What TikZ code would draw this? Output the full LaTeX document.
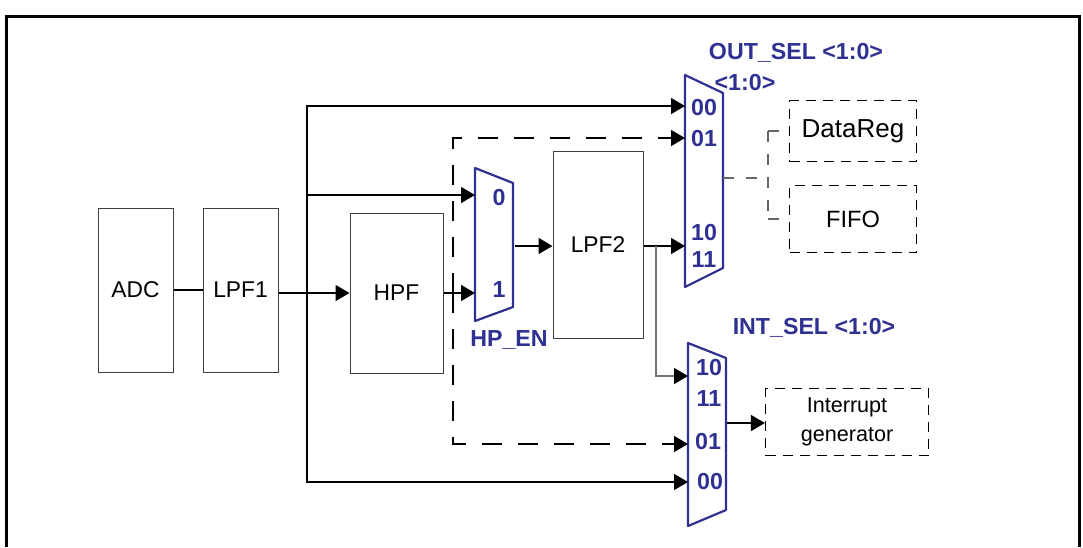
\documentclass[tikz,border=0pt]{standalone}
\usepackage{fontspec}
\setmainfont{Liberation Sans}
\usetikzlibrary{arrows.meta}
\definecolor{selblue}{RGB}{46,49,146}
\tikzset{
  blk/.style={draw=black!75, line width=0.5pt, inner sep=0pt, font=\fontsize{11.4}{13}\selectfont},
  regbox/.style={draw, dash pattern=on 5pt off 3.5pt, line width=0.6pt, inner sep=0pt},
  wire/.style={line width=0.75pt},
  sig/.style={wire, -{Triangle[length=7pt,width=8pt]}},
  bypass/.style={sig, dash pattern=on 10pt off 8pt},
  branch/.style={wire, draw=black!55, -{Triangle[length=7pt,width=8pt,color=black,fill=black]}},
  fanout/.style={line width=0.6pt, draw=black!60, dash pattern=on 5.5pt off 6pt},
  mux/.style={draw=selblue, line width=1.1pt, line join=round},
  muxlbl/.style={text=selblue, inner sep=0pt, font=\fontsize{11.6}{13}\bfseries\selectfont},
}
\begin{document}
\begin{tikzpicture}[x=0.5pt, y=-0.5pt]
  \useasboundingbox (0,0) rectangle (1083,547);
  \draw[line width=1.5pt] (6,547) -- (6,16) -- (1079,16) -- (1079,547);

  % filter chain
  \node[blk, minimum width=37.5pt, minimum height=82pt] (adc) at (135.5,290) {ADC};
  \node[blk, minimum width=37.5pt, minimum height=82pt] (lpf1) at (240.5,290) {LPF1};
  \node[blk, minimum width=46.5pt, minimum height=80pt] (hpf) at (396.5,293) {HPF};
  \node[blk, minimum width=45pt, minimum height=93.5pt] (lpf2) at (598,245) {LPF2};

  % destinations
  \node[regbox, minimum width=63.5pt, minimum height=30.5pt, font=\fontsize{13}{15}\selectfont] (datareg) at (853,131) {DataReg};
  \node[regbox, minimum width=63.5pt, minimum height=33.5pt, font=\fontsize{11.8}{14}\selectfont] (fifo) at (853,219) {FIFO};
  \node[regbox, minimum width=81.5pt, minimum height=33.5pt, align=center, font=\fontsize{10.8}{14.5}\selectfont] (intgen) at (847,422) {Interrupt\\generator};

  % multiplexers
  \draw[mux] (475,168) -- (513,183) -- (513,307) -- (475,321) -- cycle;
  \draw[mux] (685,75) -- (723,93) -- (723,268) -- (685,287) -- cycle;
  \draw[mux] (688,343) -- (726,358) -- (726,510) -- (688,526) -- cycle;
  \coordinate (hp0) at (475,195);
  \coordinate (hp1) at (475,293);
  \coordinate (hpq) at (515,246);
  \coordinate (out00) at (685,106);
  \coordinate (out01) at (685,138);
  \coordinate (out10) at (685,246);
  \coordinate (outq) at (723,178);
  \coordinate (int10) at (688,376);
  \coordinate (int01) at (688,444);
  \coordinate (int00) at (688,482);
  \coordinate (intq) at (727,423);

  \node[muxlbl] (l0) at (499,198) {0};
  \node[muxlbl] (l1) at (499,290) {1};
  \node[muxlbl] (hpen) at (509,340) {HP\_EN};
  \node[muxlbl] (o00) at (704,108) {00};
  \node[muxlbl] (o01) at (704,139) {01};
  \node[muxlbl] (o10) at (704,233) {10};
  \node[muxlbl] (o11) at (704,260) {11};
  \node[muxlbl] (outsel) at (796,53) {OUT\_SEL <1:0>};
  \node[muxlbl] (outsel2) at (745,83) {<1:0>};
  \node[muxlbl] (i10) at (709,368) {10};
  \node[muxlbl] (i11) at (709,399) {11};
  \node[muxlbl] (i01) at (708,442) {01};
  \node[muxlbl] (i00) at (710,482) {00};
  \node[muxlbl] (intsel) at (814,328) {INT\_SEL <1:0>};

  % connections
  \coordinate (tap) at (307,293);
  \coordinate (byp) at (453,293);
  \coordinate (br) at (656,246);
  \coordinate (fan) at (768,178);
  \draw[wire] (adc.east) -- (lpf1.west);
  \draw[sig] (lpf1.east |- hpf.west) -- (hpf.west);
  \draw[sig] (tap) |- (out00);
  \draw[sig] (tap |- hp0) -- (hp0);
  \draw[sig] (tap) |- (int00);
  \draw[sig] (hpf.east) -- (hp1);
  \draw[bypass] (byp) |- (out01);
  \draw[bypass] (byp) |- (int01);
  \draw[sig] (hpq) -- (lpf2.west |- hpq);
  \draw[sig] (lpf2.east |- out10) -- (out10);
  \draw[branch] (br) |- (int10);
  \draw[fanout] (outq) -- (fan);
  \draw[fanout] (fan |- datareg.west) -- (fan |- fifo.west);
  \draw[fanout] (fan |- datareg.west) -- (datareg.west);
  \draw[fanout] (fan |- fifo.west) -- (fifo.west);
  \draw[sig] (intq) -- (intgen.west |- intq);
\end{tikzpicture}
\end{document}
